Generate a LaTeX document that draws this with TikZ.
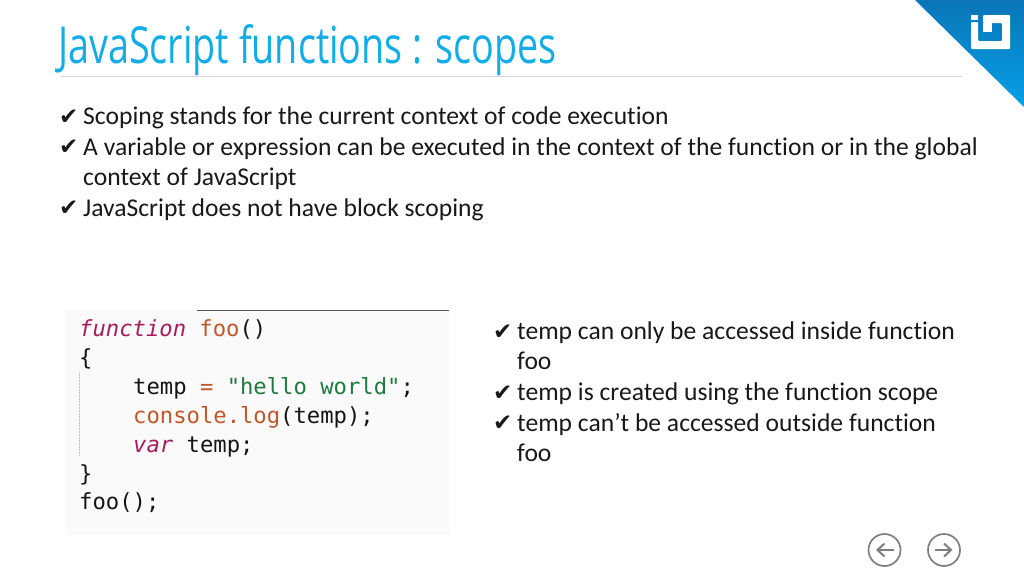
\documentclass[tikz,border=0pt]{standalone}
\usepackage{fontspec}
\usepackage{xcolor}
\setmainfont[RawFeature={-liga;-clig}]{Carlito}
\newfontfamily\titlefont[FakeStretch=0.74]{Open Sans}
\newfontfamily\tickfont{DejaVu Sans}
\newfontfamily\codefont{DejaVu Sans Mono}
\usetikzlibrary{arrows.meta}
\definecolor{titleblue}{HTML}{12ADE6}
\definecolor{rulegray}{HTML}{D4D4D4}
\definecolor{codebg}{HTML}{FAFAFA}
\definecolor{codeword}{HTML}{A61C5C}
\definecolor{codefn}{HTML}{C0562B}
\definecolor{codestr}{HTML}{1F7A3F}
\definecolor{iconrule}{HTML}{7F7F7F}
\definecolor{cornertop}{HTML}{0A75B8}
\definecolor{cornerbot}{HTML}{04A0E6}
\tikzset{%
	slidetitle/.style = {anchor=base west, inner sep=0pt, text=titleblue, font=\titlefont\fontsize{51}{51}\selectfont},
	bodyline/.style   = {anchor=base west, inner sep=0pt, text=black!90, font=\fontsize{25.6}{30}\selectfont},
	tick/.style       = {anchor=base west, inner sep=0pt, text=black!90, font=\tickfont\fontsize{23}{23}\selectfont},
	codeline/.style   = {anchor=base west, inner sep=0pt, text=black!92, font=\codefont\fontsize{22.2}{29}\selectfont},
	navicon/.style    = {draw=iconrule, line width=1.7pt, circle, minimum size=32pt, inner sep=0pt},
	navarrow/.style   = {draw=iconrule, line width=2pt, -{Straight Barb[length=7pt,width=13pt]}},
}
\begin{document}
\begin{tikzpicture}[x=1pt,y=-1pt]
	\useasboundingbox (0,0) rectangle (1024,576);
	\fill[white] (0,0) rectangle (1024,576);
	
	% header
	\node[slidetitle] (title) at (58,63) {JavaScript functions : scopes};
	\draw[rulegray] (61,76.5) -- (962,76.5);
	\shade[top color=cornertop, bottom color=cornerbot] (915,0) -- (1024,0) -- (1024,107) -- cycle;
	\fill[white,rounded corners=1pt] (971,22) -- (978,22) -- (978,41) -- (1002,41) -- (1002,23) -- (983,23) -- (983,15) -- (1010,15) -- (1010,49) -- (971,49) -- cycle;
	\fill[white] (971,15) rectangle (978,20);
	\fill[white] (983,23) rectangle (992,32);
	
	% top list
	\node[tick] (tickA) at (59,124) {✔};
	\node[bodyline] (lineA) at (83,124) {Scoping stands for the current context of code execution};
	\node[tick] (tickB) at (59,154) {✔};
	\node[bodyline] (lineB) at (83,155) {A variable or expression can be executed in the context of the function or in the global};
	\node[bodyline] (lineC) at (83,185.5) {context of JavaScript};
	\node[tick] (tickC) at (59,215) {✔};
	\node[bodyline] (lineD) at (83,216) {JavaScript does not have block scoping};
	
	% code picture
	\fill[codebg] (65,310) rectangle (449,535);
	\draw[black!65,line width=1.2pt] (197,310.5) -- (449,310.5);
	\draw[black!25,densely dotted,line width=0.5pt] (79,372) -- (79,455);
	\node[codeline] (codeA) at (79,336) {\textcolor{codeword}{\itshape function} \textcolor{codefn}{foo}()};
	\node[codeline] (codeB) at (79,365) {\{};
	\node[codeline] (codeC) at (133,394) {temp \textcolor{codefn}{=} \textcolor{codestr}{"hello world"};};
	\node[codeline] (codeD) at (133,423) {\textcolor{codefn}{console.log}(temp);};
	\node[codeline] (codeE) at (133,452) {\textcolor{codeword}{\itshape var} temp;};
	\node[codeline] (codeF) at (79,481) {\}};
	\node[codeline] (codeG) at (79,509) {foo();};
	
	% right list
	\node[tick] (tickD) at (493,339) {✔};
	\node[bodyline] (lineE) at (517,339) {temp can only be accessed inside function};
	\node[bodyline] (lineF) at (517,369.5) {foo};
	\node[tick] (tickE) at (493,400) {✔};
	\node[bodyline] (lineG) at (517,400) {temp is created using the function scope};
	\node[tick] (tickF) at (493,430) {✔};
	\node[bodyline] (lineH) at (517,431) {temp can’t be accessed outside function};
	\node[bodyline] (lineI) at (517,461.5) {foo};
	
	% nav buttons
	\node[navicon] (prev) at (884.5,550) {};
	\node[navicon] (next) at (944,550) {};
	\draw[navarrow] (894,550) -- (876,550);
	\draw[navarrow] (934.5,550) -- (952.5,550);
\end{tikzpicture}
\end{document}
